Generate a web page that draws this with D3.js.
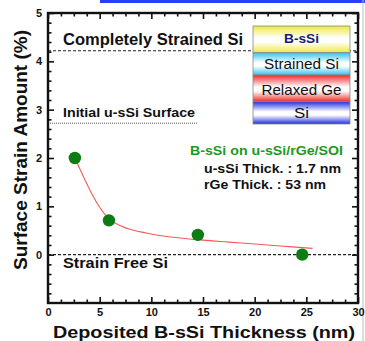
<!DOCTYPE html>
<html>
<head>
<meta charset="utf-8">
<script src="https://cdn.jsdelivr.net/npm/d3@7/dist/d3.min.js"></script>
<style>
  html, body { margin: 0; padding: 0; background: #fff; }
  svg { display: block; font-family: Arial, "Liberation Sans", sans-serif; }
</style>
</head>
<body>
<svg id="chart" width="365" height="341"></svg>
<script>
// Measured surface strain vs deposited B-sSi thickness
const thickness = [2.6, 5.9, 14.5, 24.6];
const strain = [2.0, 0.71, 0.41, 0.0];

// Fitted decay curve (red)
const fitThickness = [2.6, 3.2, 4.0, 5.0, 5.9, 7.0, 8.0, 9.5, 11, 13, 15, 17.5, 20, 22.5, 25.6];
const fitStrain = [2.0, 1.72, 1.36, 0.98, 0.74, 0.6, 0.52, 0.45, 0.39, 0.34, 0.3, 0.26, 0.22, 0.18, 0.13];

// Reference levels
const levelValues = [4.22, 2.72, 0.0];
const levelLabels = ["Completely Strained Si", "Initial u-sSi Surface", "Strain Free Si"];

// Axis ticks
const xTicks = [0, 5, 10, 15, 20, 25, 30];
const yTicks = [0, 1, 2, 3, 4, 5];

// Layer stack
const layerNames = ["B-sSi", "Strained Si", "Relaxed Ge", "Si"];
const layerColors = ["#eeea3c", "#2fc4ee", "#ee2a2a", "#1e2ee0"];

const svg = d3.select("#chart");
const L = 48, R = 358, T = 13, B = 303;
const x = d3.scaleLinear().domain([0, 30]).range([L, R]);
const y = d3.scaleLinear().domain([-1, 5]).range([B, T]);

// link strip at the top
svg.append("rect").attr("x", 100).attr("y", 0).attr("width", 265).attr("height", 3).attr("fill", "#2440ff");
svg.append("line").attr("x1", 363).attr("x2", 363).attr("y1", 0).attr("y2", 341)
  .attr("stroke", "#bbb").attr("stroke-width", 1);

// gradients for the layer stack
const defs = svg.append("defs");
layerColors.forEach((c, i) => {
  const g = defs.append("linearGradient").attr("id", "lg" + i)
    .attr("x1", 0).attr("y1", 0).attr("x2", 0).attr("y2", 1);
  g.append("stop").attr("offset", "0%").attr("stop-color", c);
  g.append("stop").attr("offset", "45%").attr("stop-color", "#ffffff");
  g.append("stop").attr("offset", "60%").attr("stop-color", "#ffffff");
  g.append("stop").attr("offset", "100%").attr("stop-color", c);
});

// reference lines
const refLines = svg.append("g");
refLines.append("line").attr("x1", L).attr("x2", R).attr("y1", y(levelValues[0])).attr("y2", y(levelValues[0]))
  .attr("stroke", "#222").attr("stroke-width", 1.1).attr("stroke-dasharray", "3,2");
refLines.append("line").attr("x1", L).attr("x2", 197).attr("y1", y(levelValues[1])).attr("y2", y(levelValues[1]))
  .attr("stroke", "#555").attr("stroke-width", 1).attr("stroke-dasharray", "1,1");
refLines.append("line").attr("x1", L).attr("x2", R).attr("y1", y(levelValues[2])).attr("y2", y(levelValues[2]))
  .attr("stroke", "#222").attr("stroke-width", 1.1).attr("stroke-dasharray", "3,2");

const lbl = (txt, xx, yy, size, len, color, weight) => svg.append("text")
  .attr("x", xx).attr("y", yy).attr("font-size", size).attr("font-weight", weight || "bold")
  .attr("fill", color || "#111").attr("textLength", len).attr("lengthAdjust", "spacingAndGlyphs").text(txt);

lbl(levelLabels[0], 63, 45, 16, 180);
lbl(levelLabels[1], 63, 117, 12, 132);
lbl(levelLabels[2], 63, 268, 14, 105);

// layer stack
const layerTops = [26, 52.7, 75, 101.7, 124];
const stack = svg.append("g");
layerNames.forEach((n, i) => {
  stack.append("rect").attr("x", 253).attr("y", layerTops[i]).attr("width", 97)
    .attr("height", layerTops[i + 1] - layerTops[i]).attr("fill", "url(#lg" + i + ")")
    .attr("stroke", "#888").attr("stroke-width", 0.8);
});
const layerText = [
  { size: 12, len: 35, base: 43, weight: "bold", color: "#1a1a7a" },
  { size: 15, len: 75, base: 68.5, weight: "normal", color: "#111" },
  { size: 15, len: 80, base: 94.5, weight: "normal", color: "#111" },
  { size: 15, len: 15, base: 118, weight: "normal", color: "#111" }
];
layerNames.forEach((n, i) => {
  const s = layerText[i];
  stack.append("text").attr("x", 301.5).attr("y", s.base).attr("text-anchor", "middle")
    .attr("font-size", s.size).attr("font-weight", s.weight).attr("fill", s.color)
    .attr("textLength", s.len).attr("lengthAdjust", "spacingAndGlyphs").text(n);
});

// sample description
lbl("B-sSi on u-sSi/rGe/SOI", 190, 155, 12, 153, "#1c9a1c");
lbl("u-sSi Thick. : 1.7 nm", 204, 173, 12, 137);
lbl("rGe Thick. : 53 nm", 204, 189, 12, 122);

// fit curve
svg.append("path")
  .datum(fitThickness.map((v, i) => [v, fitStrain[i]]))
  .attr("fill", "none").attr("stroke", "#f25a5a").attr("stroke-width", 1.1)
  .attr("d", d3.line().x(d => x(d[0])).y(d => y(d[1])).curve(d3.curveMonotoneX));

// measured points
svg.append("g").selectAll("circle")
  .data(thickness.map((v, i) => [v, strain[i]]))
  .join("circle")
  .attr("cx", d => x(d[0])).attr("cy", d => y(d[1])).attr("r", 6.2)
  .attr("fill", "#0c7d14");

// axes: inward ticks on all four sides
const xMinor = d3.range(0, 30.01, 1.25).filter(v => Math.abs(v % 5) > 1e-6);
const yMinor = d3.range(-1, 5.01, 0.2).map(v => +v.toFixed(2)).filter(v => Math.abs(v - Math.round(v)) > 1e-6);

function styleAxis(g) {
  g.selectAll(".domain").remove();
  g.selectAll(".tick line").attr("stroke", "#111").attr("stroke-width", 1.6);
  g.selectAll("text").attr("font-size", 11).attr("font-weight", "bold").attr("fill", "#111")
    .attr("font-family", "Arial, 'Liberation Sans', sans-serif");
}

svg.append("g").attr("transform", `translate(0,${B})`)
  .call(d3.axisBottom(x).tickValues(xTicks).tickSize(-6).tickPadding(5).tickFormat(d3.format("d"))).call(styleAxis);
svg.append("g").attr("transform", `translate(0,${B})`)
  .call(d3.axisBottom(x).tickValues(xMinor).tickSize(-3.5).tickFormat("")).call(styleAxis);
svg.append("g").attr("transform", `translate(0,${T})`)
  .call(d3.axisTop(x).tickValues(xTicks).tickSize(-6).tickFormat("")).call(styleAxis);
svg.append("g").attr("transform", `translate(0,${T})`)
  .call(d3.axisTop(x).tickValues(xMinor).tickSize(-3.5).tickFormat("")).call(styleAxis);

svg.append("g").attr("transform", `translate(${L},0)`)
  .call(d3.axisLeft(y).tickValues(yTicks).tickSize(-6).tickPadding(6).tickFormat(d3.format("d"))).call(styleAxis);
svg.append("g").attr("transform", `translate(${L},0)`)
  .call(d3.axisLeft(y).tickValues(yMinor).tickSize(-3.5).tickFormat("")).call(styleAxis);
svg.append("g").attr("transform", `translate(${R},0)`)
  .call(d3.axisRight(y).tickValues(yTicks).tickSize(-6).tickFormat("")).call(styleAxis);
svg.append("g").attr("transform", `translate(${R},0)`)
  .call(d3.axisRight(y).tickValues(yMinor).tickSize(-3.5).tickFormat("")).call(styleAxis);

// frame
svg.append("rect").attr("x", L).attr("y", T).attr("width", R - L).attr("height", B - T)
  .attr("fill", "none").attr("stroke", "#111").attr("stroke-width", 2.4);

// axis titles
svg.append("text").attr("x", 204).attr("y", 337.5).attr("text-anchor", "middle")
  .attr("font-size", 16).attr("font-weight", "bold").attr("fill", "#111")
  .attr("textLength", 302).attr("lengthAdjust", "spacingAndGlyphs")
  .text("Deposited B-sSi Thickness (nm)");
svg.append("text").attr("transform", "translate(27,150) rotate(-90)").attr("text-anchor", "middle")
  .attr("font-size", 18).attr("font-weight", "bold").attr("fill", "#111")
  .attr("textLength", 240).attr("lengthAdjust", "spacingAndGlyphs")
  .text("Surface Strain Amount (%)");
</script>
</body>
</html>
